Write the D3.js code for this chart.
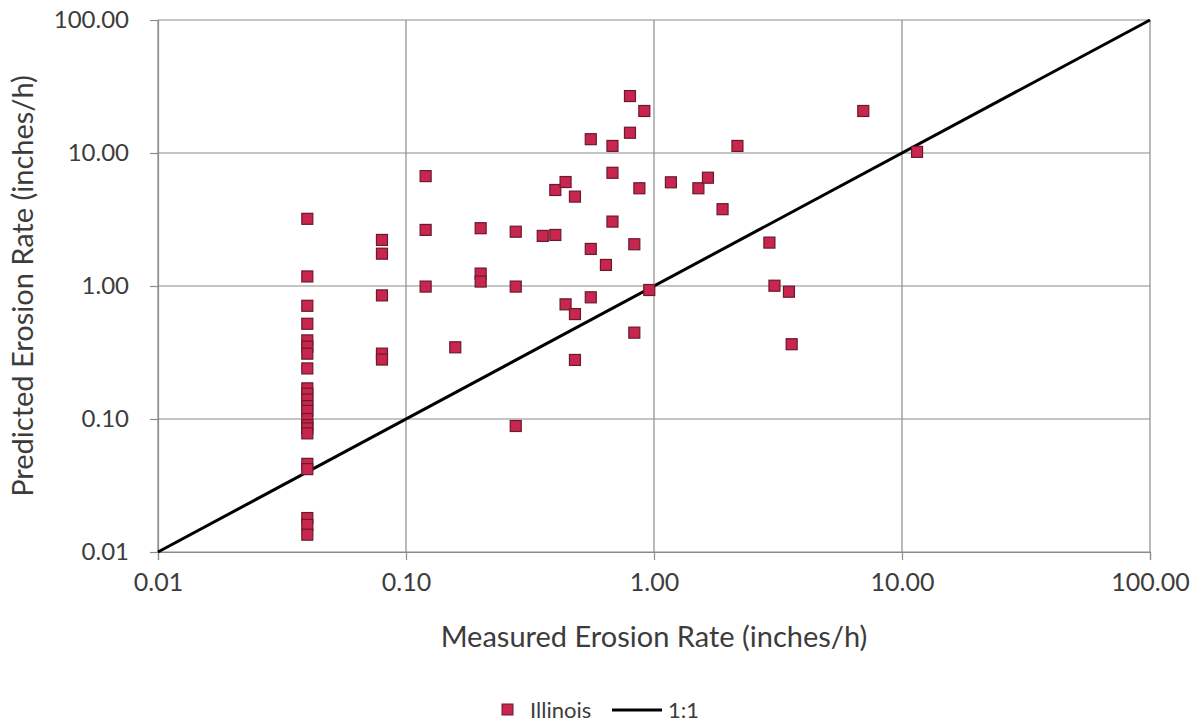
<!DOCTYPE html>
<html>
<head>
<meta charset="utf-8">
<script src="https://cdn.jsdelivr.net/npm/d3@7"></script>
<style>
  html, body { margin: 0; padding: 0; background: #ffffff; }
  svg { display: block; }
  text { font-family: Lato, "Open Sans", sans-serif; fill: #3c3c3c; }
</style>
</head>
<body>
<svg id="chart" width="1198" height="723"></svg>
<script>
// ---- data ----
const measured = [
  0.04,0.04,0.04,0.04,0.04,0.04,0.04,0.04,0.04,0.04,0.04,0.04,0.04,0.04,0.04,0.04,0.04,0.04,0.04,0.04,0.04,0.04,
  0.08,0.08,0.08,0.08,0.08,
  0.12,0.12,0.12,
  0.158,
  0.2,0.2,0.2,
  0.277,0.277,0.277,
  0.356,
  0.40,0.40,
  0.44,0.44,
  0.48,0.48,0.48,
  0.556,0.556,0.556,
  0.64,
  0.68,0.68,0.68,
  0.80,0.80,
  0.833,0.833,
  0.873,
  0.914,
  0.957,
  1.17,
  1.51,
  1.65,
  1.89,
  2.17,
  2.92,
  3.06,
  3.50,
  3.59,
  6.98,
  11.5
];
const predicted = [
  3.2,1.18,0.71,0.52,0.39,0.35,0.31,0.24,0.17,0.155,0.14,0.125,0.115,0.10,0.09,0.085,0.078,0.046,0.042,0.018,0.016,0.0135,
  2.22,1.75,0.85,0.31,0.28,
  6.7,2.64,0.99,
  0.346,
  2.72,1.24,1.08,
  2.56,0.99,0.0886,
  2.38,
  2.42,5.27,
  6.05,0.728,
  4.7,0.615,0.278,
  12.7,1.90,0.822,
  1.44,
  11.3,7.1,3.05,
  26.8,14.2,
  2.06,0.446,
  5.43,
  20.7,
  0.933,
  6.02,
  5.43,
  6.52,
  3.78,
  11.3,
  2.12,
  1.005,
  0.906,
  0.365,
  20.7,
  10.2
];
const oneToOneX = [0.01, 100];
const oneToOneY = [0.01, 100];
const tickValues = [0.01, 0.1, 1, 10, 100];
const seriesNames = ["Illinois", "1:1"];
const xTitle = "Measured Erosion Rate (inches/h)";
const yTitle = "Predicted Erosion Rate (inches/h)";

// ---- layout ----
const svg = d3.select("#chart");
const pL = 158, pR = 1150, pT = 20, pB = 552;
const x = d3.scaleLog().domain([0.01, 100]).range([pL, pR]);
const y = d3.scaleLog().domain([0.01, 100]).range([pB, pT]);
const gridColor = "#8c8c8c";
const markerFill = "#c8264e";
const markerStroke = "#6a1a2c";

// gridlines
svg.append("g").selectAll("line").data(tickValues).join("line")
  .attr("x1", d => x(d)).attr("x2", d => x(d))
  .attr("y1", pT).attr("y2", pB)
  .attr("stroke", gridColor).attr("stroke-width", 1.2);
svg.append("g").selectAll("line").data(tickValues).join("line")
  .attr("x1", pL).attr("x2", pR)
  .attr("y1", d => y(d)).attr("y2", d => y(d))
  .attr("stroke", gridColor).attr("stroke-width", 1.2);

// axes
const fmt = d => d.toFixed(2);
const xAxis = svg.append("g").attr("transform", `translate(0,${pB})`)
  .call(d3.axisBottom(x).tickValues(tickValues).tickFormat(fmt).tickSize(8).tickPadding(13));
const yAxis = svg.append("g").attr("transform", `translate(${pL},0)`)
  .call(d3.axisLeft(y).tickValues(tickValues).tickFormat(fmt).tickSize(8).tickPadding(21));
xAxis.selectAll(".tick text").style("font-size", "25px");
yAxis.selectAll(".tick text").style("font-size", "24px");
[xAxis, yAxis].forEach(g => {
  g.select(".domain").attr("stroke", gridColor).attr("stroke-width", 1.2);
  g.selectAll(".tick line").attr("stroke", gridColor).attr("stroke-width", 1.2);
  g.selectAll(".tick text").style("font-family", "Lato, sans-serif").attr("fill", "#3c3c3c");
});

// 1:1 line
const line = d3.line().x(d => x(d[0])).y(d => y(d[1]));
svg.append("path")
  .datum(oneToOneX.map((v, i) => [v, oneToOneY[i]]))
  .attr("d", line)
  .attr("fill", "none").attr("stroke", "#000").attr("stroke-width", 3);

// points
const sz = 11;
svg.append("g").selectAll("rect").data(measured.map((m, i) => [m, predicted[i]])).join("rect")
  .attr("x", d => x(d[0]) - sz / 2).attr("y", d => y(d[1]) - sz / 2)
  .attr("width", sz).attr("height", sz)
  .attr("fill", markerFill).attr("stroke", markerStroke).attr("stroke-width", 1.2);

// titles
svg.append("text").attr("x", 654).attr("y", 647)
  .attr("text-anchor", "middle").style("font-size", "29px").text(xTitle);
svg.append("text").attr("transform", `translate(33,${(pT + pB) / 2}) rotate(-90)`)
  .attr("text-anchor", "middle").style("font-size", "29px").text(yTitle);

// legend
const lg = svg.append("g");
lg.append("rect").attr("x", 502).attr("y", 704).attr("width", 11).attr("height", 11)
  .attr("fill", markerFill).attr("stroke", markerStroke).attr("stroke-width", 1);
lg.append("text").attr("x", 530).attr("y", 718).style("font-size", "22px").text(seriesNames[0]);
lg.append("line").attr("x1", 612).attr("x2", 662).attr("y1", 710).attr("y2", 710)
  .attr("stroke", "#000").attr("stroke-width", 3);
lg.append("text").attr("x", 668).attr("y", 718).style("font-size", "22px").text(seriesNames[1]);
</script>
</body>
</html>
